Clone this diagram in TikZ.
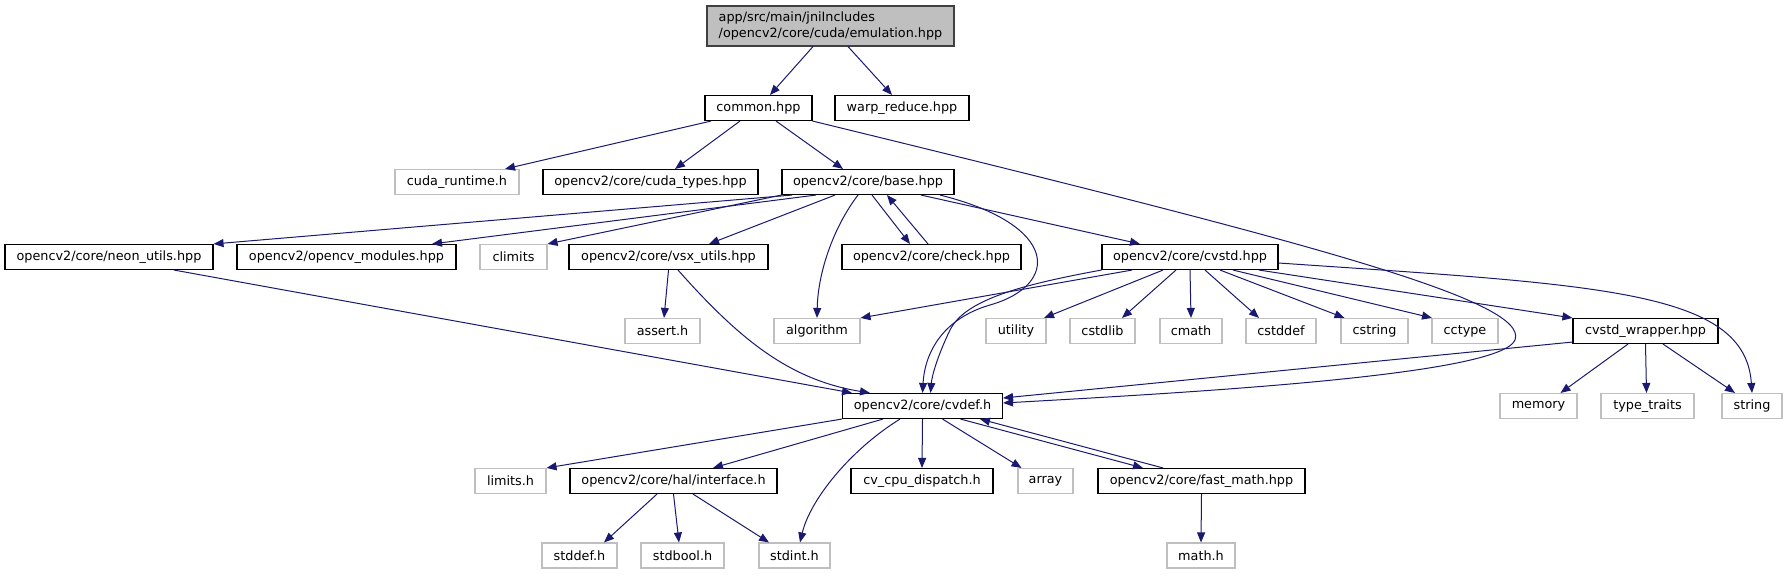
\documentclass[tikz,border=0pt]{standalone}
\usepackage{fontspec}
\setmainfont{DejaVu Sans}
\usetikzlibrary{arrows.meta}
\definecolor{edgeblue}{RGB}{25,25,112}
\definecolor{sysgray}{RGB}{191,191,191}
\definecolor{rootdraw}{RGB}{64,64,64}
\tikzset{
  hdr/.style={draw=black, fill=white, line width=1.1pt, minimum width=#1,
              minimum height=25pt, inner sep=0pt, align=left,
              font=\fontsize{12.8}{16}\selectfont},
  sys/.style={hdr=#1, draw=sysgray},
  arr/.style={-{Triangle[length=10pt, width=8pt]}, edgeblue, line width=1pt},
}

\begin{document}
\begin{tikzpicture}[x=1pt, y=-1pt]
    \useasboundingbox (0,0) rectangle (1787,575);

    % ─── top: the file itself and its two includes ─────────────────────
    \node[hdr=247pt, fill=sysgray, draw=rootdraw, minimum height=40pt]
      (root) at (830.5,26) {app/src/main/jniIncludes\\/opencv2/core/cuda/emulation.hpp};
    \node[hdr=107pt] (common) at (758.5,108) {common.hpp};
    \node[hdr=134pt] (warp)   at (902,108)   {warp\_reduce.hpp};
    \draw[arr] ([xshift=-17.5pt]root.south) -- ([xshift=11.5pt]common.north);
    \draw[arr] ([xshift=17.5pt]root.south) -- ([xshift=-10pt]warp.north);

    % ─── row 2 ──────────────────────────────────────────────────────────
    \node[sys=124pt] (cudart)    at (457,182)   {cuda\_runtime.h};
    \node[hdr=215pt] (cudatypes) at (650.5,182) {opencv2/core/cuda\_types.hpp};
    \node[hdr=172pt] (base)      at (868,182)   {opencv2/core/base.hpp};

    % ─── row 3 ──────────────────────────────────────────────────────────
    \node[hdr=208pt] (neon)    at (109,257)   {opencv2/core/neon\_utils.hpp};
    \node[hdr=219pt] (modules) at (346.5,257) {opencv2/opencv\_modules.hpp};
    \node[sys=67pt]  (climits) at (513.5,257) {climits};
    \node[hdr=199pt] (vsx)     at (668.5,257) {opencv2/core/vsx\_utils.hpp};
    \node[hdr=179pt] (check)   at (931.5,257) {opencv2/core/check.hpp};
    \node[hdr=176pt] (cvstd)   at (1190,257)  {opencv2/core/cvstd.hpp};

    % ─── row 4 ──────────────────────────────────────────────────────────
    \node[sys=75pt]  (assert)    at (662.5,331)  {assert.h};
    \node[sys=86pt]  (algorithm) at (817,331)    {algorithm};
    \node[sys=60pt]  (utility)   at (1016,331)   {utility};
    \node[sys=65pt]  (cstdlib)   at (1102.5,331) {cstdlib};
    \node[sys=62pt]  (cmath)     at (1191,331)   {cmath};
    \node[sys=70pt]  (cstddef)   at (1281,331)   {cstddef};
    \node[sys=67pt]  (cstring)   at (1374.5,331) {cstring};
    \node[sys=66pt]  (cctype)    at (1465,331)   {cctype};
    \node[hdr=145pt] (wrapper)   at (1645.5,331) {cvstd\_wrapper.hpp};

    % ─── row 5 ──────────────────────────────────────────────────────────
    \node[hdr=160pt] (cvdef)      at (922.5,406)  {opencv2/core/cvdef.h};
    \node[sys=77pt]  (memory)     at (1538.5,406) {memory};
    \node[sys=93pt]  (typetraits) at (1647.5,406) {type\_traits};
    \node[sys=60pt]  (string)     at (1752,406)   {string};

    % ─── row 6 ──────────────────────────────────────────────────────────
    \node[sys=71pt]  (limits)    at (510.5,481)  {limits.h};
    \node[hdr=207pt] (interface) at (673.5,481)  {opencv2/core/hal/interface.h};
    \node[hdr=142pt] (cpudisp)   at (922,481)    {cv\_cpu\_dispatch.h};
    \node[sys=55pt]  (array)     at (1045.5,481) {array};
    \node[hdr=207pt] (fastmath)  at (1201.5,481) {opencv2/core/fast\_math.hpp};

    % ─── row 7 ──────────────────────────────────────────────────────────
    \node[sys=75pt] (stddef)  at (579.5,555.5) {stddef.h};
    \node[sys=83pt] (stdbool) at (682.5,555.5) {stdbool.h};
    \node[sys=71pt] (stdint)  at (794.5,555.5) {stdint.h};
    \node[sys=68pt] (mathh)   at (1201,555.5)  {math.h};

    % ─── common.hpp ─────────────────────────────────────────────────────
    \draw[arr] ([xshift=-47.5pt]common.south) -- ([xshift=48pt]cudart.north);
    \draw[arr] ([xshift=-18.5pt]common.south) -- ([xshift=24.5pt]cudatypes.north);
    \draw[arr] ([xshift=17.5pt]common.south) -- ([xshift=-25pt]base.north);
    \draw[arr] (common.south east) .. controls (1300,240) and (1530,300) .. (1515,340)
               .. controls (1500,375) and (1200,392) .. ([yshift=3pt]cvdef.east);

    % ─── base.hpp ───────────────────────────────────────────────────────
    \draw[arr] ([xshift=-76pt]base.south) -- (neon.north east);
    \draw[arr] ([xshift=-52pt]base.south) -- ([xshift=85.5pt]modules.north);
    \draw[arr] (base.south west) -- (climits.north east);
    \draw[arr] ([xshift=-33pt]base.south) -- ([xshift=40.5pt]vsx.north);
    \draw[arr] ([xshift=-10pt]base.south) .. controls (835,225) and (818,270) .. (algorithm.north);
    \draw[arr] ([xshift=4pt]base.south) -- ([xshift=-21.5pt]check.north);
    \draw[arr] ([xshift=-3.5pt]check.north) -- ([xshift=19pt]base.south);
    \draw[arr] ([xshift=72pt]base.south) .. controls (1060,225) and (1060,285) .. (990,305)
               .. controls (945,318) and (925,350) .. (cvdef.north);
    \draw[arr] ([xshift=53pt]base.south) -- ([xshift=-50pt]cvstd.north);

    % ─── neon / vsx ─────────────────────────────────────────────────────
    \draw[arr] ([xshift=65pt]neon.south) -- ([xshift=-70.5pt]cvdef.north);
    \draw[arr] ([xshift=9.5pt]vsx.south) .. controls (740,340) and (790,380) .. ([xshift=-52.5pt]cvdef.north);
    \draw[arr] (vsx.south) -- ([xshift=1.5pt]assert.north);

    % ─── cvstd.hpp ──────────────────────────────────────────────────────
    \draw[arr] (cvstd.south west) .. controls (1020,285) and (965,300) .. (950,330)
               .. controls (938,355) and (932,375) .. ([xshift=8pt]cvdef.north);
    \draw[arr] ([xshift=-58pt]cvstd.south) -- (algorithm.north east);
    \draw[arr] ([xshift=-27pt]cvstd.south) -- ([xshift=28pt]utility.north);
    \draw[arr] ([xshift=-14pt]cvstd.south) -- ([xshift=19.5pt]cstdlib.north);
    \draw[arr] (cvstd.south) -- (cmath.north);
    \draw[arr] ([xshift=15pt]cvstd.south) -- ([xshift=-22pt]cstddef.north);
    \draw[arr] ([xshift=30pt]cvstd.south) -- ([xshift=-30pt]cstring.north);
    \draw[arr] ([xshift=43pt]cvstd.south) -- ([xshift=-33pt]cctype.north);
    \draw[arr] ([xshift=69pt]cvstd.south) -- (wrapper.north west);
    \draw[arr] ([yshift=-6pt]cvstd.east) .. controls (1600,285) and (1745,290) .. (string.north);

    % ─── cvstd_wrapper.hpp ──────────────────────────────────────────────
    \draw[arr] ([yshift=2pt]wrapper.south west) -- ([yshift=8pt]cvdef.east);
    \draw[arr] ([xshift=-17.5pt]wrapper.south) -- ([xshift=22pt]memory.north);
    \draw[arr] (wrapper.south) -- ([xshift=-1pt]typetraits.north);
    \draw[arr] ([xshift=17.5pt]wrapper.south) -- ([xshift=-17pt]string.north);

    % ─── cvdef.h ────────────────────────────────────────────────────────
    \draw[arr] (cvdef.south west) -- (limits.north east);
    \draw[arr] ([xshift=-39.5pt]cvdef.south) -- ([xshift=39.5pt]interface.north);
    \draw[arr] ([xshift=-22.5pt]cvdef.south) .. controls (850,450) and (810,500) .. ([xshift=5.5pt]stdint.north);
    \draw[arr] (cvdef.south) -- (cpudisp.north);
    \draw[arr] ([xshift=20pt]cvdef.south) -- ([xshift=-24pt]array.north);
    \draw[arr] ([xshift=38pt]cvdef.south) -- ([xshift=-58.5pt]fastmath.north);
    \draw[arr] ([xshift=-38.5pt]fastmath.north) -- ([xshift=57.5pt]cvdef.south);

    % ─── interface.h / fast_math.hpp ────────────────────────────────────
    \draw[arr] ([xshift=-16.5pt]interface.south) -- ([xshift=24.5pt]stddef.north);
    \draw[arr] (interface.south) -- ([xshift=-3.5pt]stdbool.north);
    \draw[arr] ([xshift=19.5pt]interface.south) -- ([xshift=-25.5pt]stdint.north);
    \draw[arr] (fastmath.south) -- (mathh.north);

\end{tikzpicture}
\end{document}
